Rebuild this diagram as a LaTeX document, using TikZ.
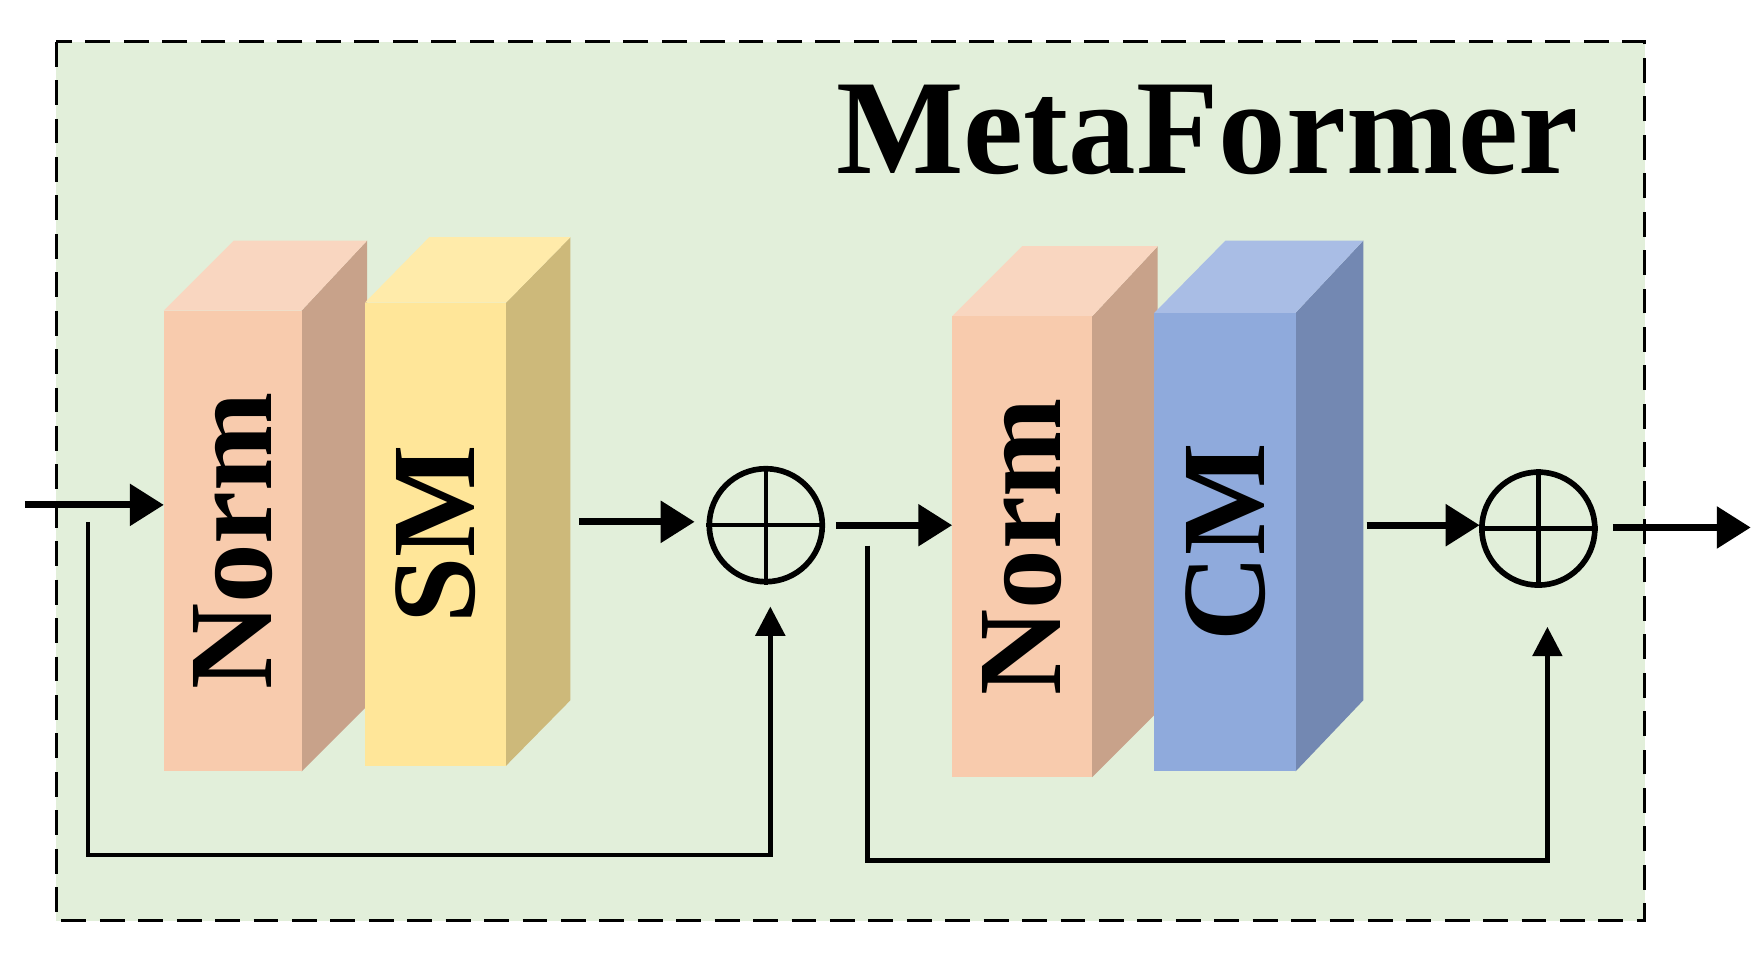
\documentclass[tikz,border=0pt]{standalone}
\usepackage{fontspec}
\setmainfont{Liberation Serif}
\usetikzlibrary{arrows.meta}
\definecolor{bg}{HTML}{E2EFDA}
\definecolor{nf}{HTML}{F8CBAD}\definecolor{nt}{HTML}{F9D6C0}\definecolor{ns}{HTML}{C8A28A}
\definecolor{sf}{HTML}{FFE699}\definecolor{st}{HTML}{FFEBAA}\definecolor{ss}{HTML}{CDB97A}
\definecolor{cf}{HTML}{8FAADC}\definecolor{ct}{HTML}{A9BDE5}\definecolor{cs}{HTML}{7388B2}
\tikzset{
  thick arrow/.style={line width=0.06cm, -{Triangle[length=0.30cm,width=0.36cm]}},
  skip/.style={line width=0.04cm, -{Triangle[length=0.26cm,width=0.26cm]}},
  lbl/.style={rotate=90, font=\bfseries\fontsize{30}{30}\selectfont},
  adder/.style={circle, draw, line width=0.05cm, minimum size=1cm, inner sep=0},
}
\begin{document}
\begin{tikzpicture}[x=0.01cm,y=-0.01cm]
\useasboundingbox (0,0) rectangle (1560,846);
\draw[fill=bg, line width=0.03cm, dash pattern=on 0.22cm off 0.12cm] (50,37) rectangle (1456,815);
\node[anchor=east, font=\bfseries\fontsize{34}{34}\selectfont] (title) at (1410,115) {MetaFormer};
% blocks
\fill[ns] (267,275) -- (325,213) -- (325,625) -- (267,683) -- cycle;
\fill[nt] (145,275) -- (207,213) -- (325,213) -- (267,275) -- cycle;
\fill[nf] (145,275) rectangle (267,683);
\node[lbl] (n1) at (206,479) {Norm};
\fill[ss] (448,268) -- (505,210) -- (505,620) -- (448,678) -- cycle;
\fill[st] (323,268) -- (380,210) -- (505,210) -- (448,268) -- cycle;
\fill[sf] (323,268) rectangle (448,678);
\node[lbl] (sm) at (386,473) {SM};
\fill[ns] (967,280) -- (1025,218) -- (1025,630) -- (967,688) -- cycle;
\fill[nt] (843,280) -- (905,218) -- (1025,218) -- (967,280) -- cycle;
\fill[nf] (843,280) rectangle (967,688);
\node[lbl] (n2) at (905,484) {Norm};
\fill[cs] (1147,277) -- (1207,213) -- (1207,620) -- (1147,683) -- cycle;
\fill[ct] (1022,277) -- (1085,213) -- (1207,213) -- (1147,277) -- cycle;
\fill[cf] (1022,277) rectangle (1147,683);
\node[lbl] (cm) at (1085,480) {CM};
% adders
\node[adder] (a1) at (678,465) {};
\draw[line width=0.04cm] (a1.north) -- (a1.south) (a1.west) -- (a1.east);
\node[adder] (a2) at (1362,468) {};
\draw[line width=0.04cm] (a2.north) -- (a2.south) (a2.west) -- (a2.east);
% connectors
\coordinate (in) at (22,447); \coordinate (n1w) at (145,447);
\coordinate (s1) at (513,462); \coordinate (a1w) at (615,462);
\coordinate (o1) at (740,465); \coordinate (n2w) at (843,465);
\coordinate (s2) at (1210,465); \coordinate (a2w) at (1310,465);
\coordinate (o2) at (1428,467); \coordinate (out) at (1550,467);
\draw[thick arrow] (in) -- (n1w);
\draw[thick arrow] (s1) -- (a1w);
\draw[thick arrow] (o1) -- (n2w);
\draw[thick arrow] (s2) -- (a2w);
\draw[thick arrow] (o2) -- (out);
\coordinate (k1) at (78,462); \coordinate (k1e) at (682,537);
\draw[skip] (k1) |- (k1e |- 0,757) -- (k1e);
\coordinate (k2) at (768,483); \coordinate (k2e) at (1370,555);
\draw[skip] (k2) |- (k2e |- 0,762) -- (k2e);
\end{tikzpicture}
\end{document}
